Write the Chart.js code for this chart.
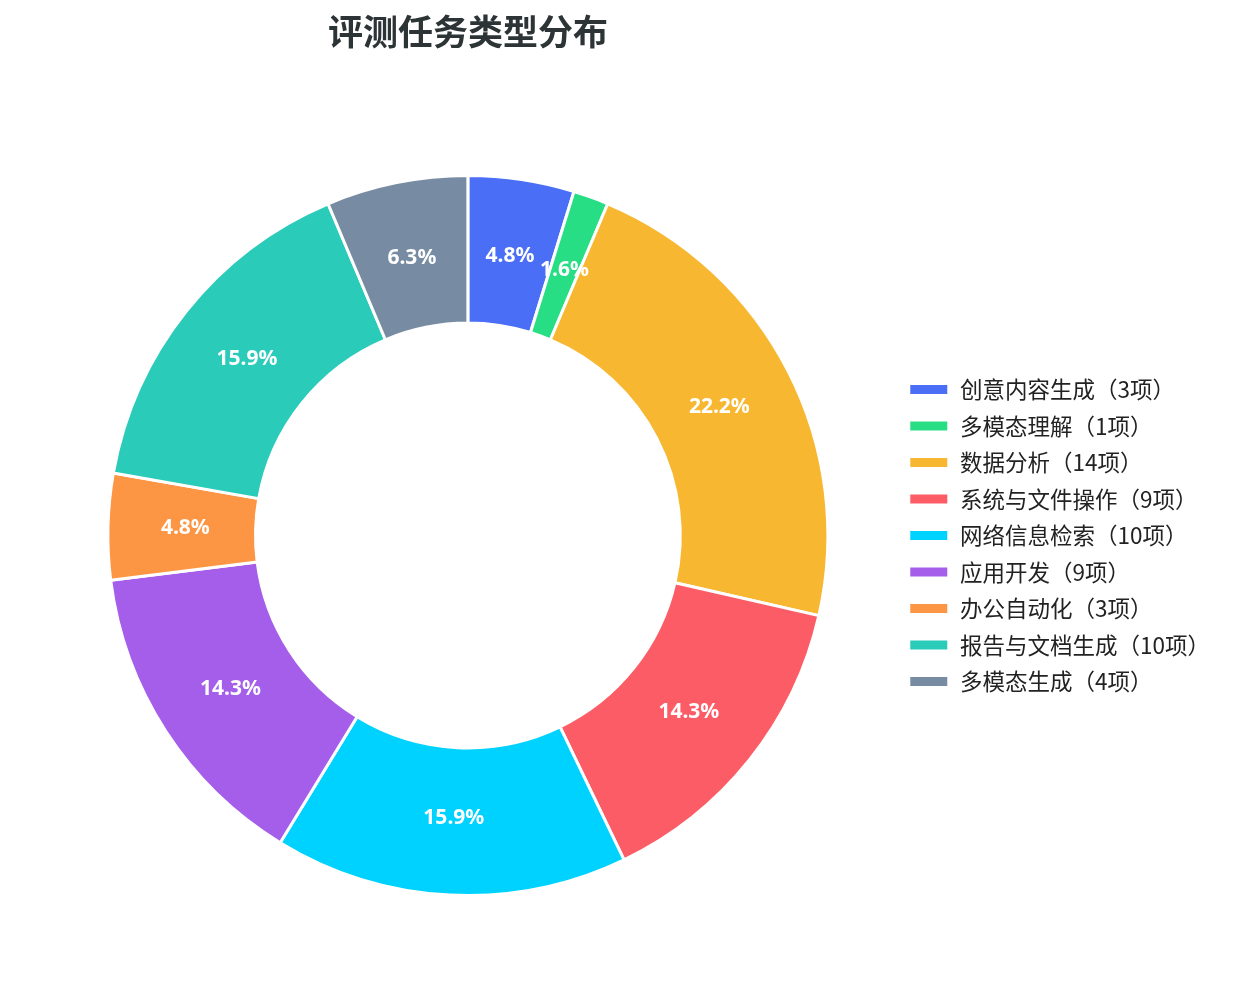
<!DOCTYPE html>
<html>
<head>
<meta charset="utf-8">
<script src="https://cdn.jsdelivr.net/npm/chart.js@4.4.1/dist/chart.umd.min.js"></script>
<style>
  body { margin: 0; background: #fff; }
  #wrap { width: 1240px; height: 1005px; position: relative; }
</style>
</head>
<body>
<div id="wrap"><canvas id="taskChart"></canvas></div>
<script>
// === DATA ===
const categories = ["创意内容生成", "多模态理解", "数据分析", "系统与文件操作", "网络信息检索", "应用开发", "办公自动化", "报告与文档生成", "多模态生成"];
const taskCounts = [3, 1, 14, 9, 10, 9, 3, 10, 4];
const sliceColors = ["#4a6ef5", "#28de85", "#f7b731", "#fc5c65", "#00d2ff", "#a55eea", "#fd9644", "#2bcbba", "#778ca3"];

const total = taskCounts.reduce((a, b) => a + b, 0);
const legendLabels = categories.map((c, i) => `${c}（${taskCounts[i]}项）`);

const FONT = "'Noto Sans CJK SC', 'Noto Sans', sans-serif";

// === Label persen di tiap slice (jarak 0.785 x radius luar) ===
const percentLabels = {
  id: "percentLabels",
  afterDatasetsDraw(chart) {
    const { ctx } = chart;
    const meta = chart.getDatasetMeta(0);
    ctx.save();
    ctx.fillStyle = "#ffffff";
    ctx.font = "bold 21px 'Noto Sans', 'Noto Sans CJK SC', sans-serif";
    ctx.textAlign = "center";
    ctx.textBaseline = "middle";
    meta.data.forEach((arc, i) => {
      const { x, y, startAngle, endAngle, outerRadius } = arc.getProps(["x", "y", "startAngle", "endAngle", "outerRadius"], true);
      const mid = (startAngle + endAngle) / 2;
      const r = outerRadius * 0.785;
      const pct = (taskCounts[i] / total * 100).toFixed(1) + "%";
      ctx.fillText(pct, x + Math.cos(mid) * r, y + Math.sin(mid) * r);
    });
    ctx.restore();
  }
};

const ctx = document.getElementById("taskChart").getContext("2d");
new Chart(ctx, {
  type: "doughnut",
  data: {
    labels: legendLabels,
    datasets: [{
      data: taskCounts,
      backgroundColor: sliceColors,
      borderColor: "#ffffff",
      borderWidth: 3,
      hoverOffset: 0
    }]
  },
  options: {
    responsive: true,
    maintainAspectRatio: false,
    animation: false,
    cutout: "59%",
    layout: { padding: { top: 0, bottom: 108, left: 41, right: 20 } },
    plugins: {
      title: {
        display: true,
        text: "评测任务类型分布",
        color: "#2d3436",
        fullSize: false,
        font: { family: FONT, size: 35, weight: "bold" },
        padding: { top: 11, bottom: 121 }
      },
      legend: {
        position: "right",
        fullSize: false,
        labels: {
          boxWidth: 40,
          boxHeight: 12,
          padding: 14,
          color: "#222222",
          font: { family: FONT, size: 22.5 }
        }
      },
      tooltip: { enabled: false }
    }
  },
  plugins: [percentLabels]
});
</script>
</body>
</html>
